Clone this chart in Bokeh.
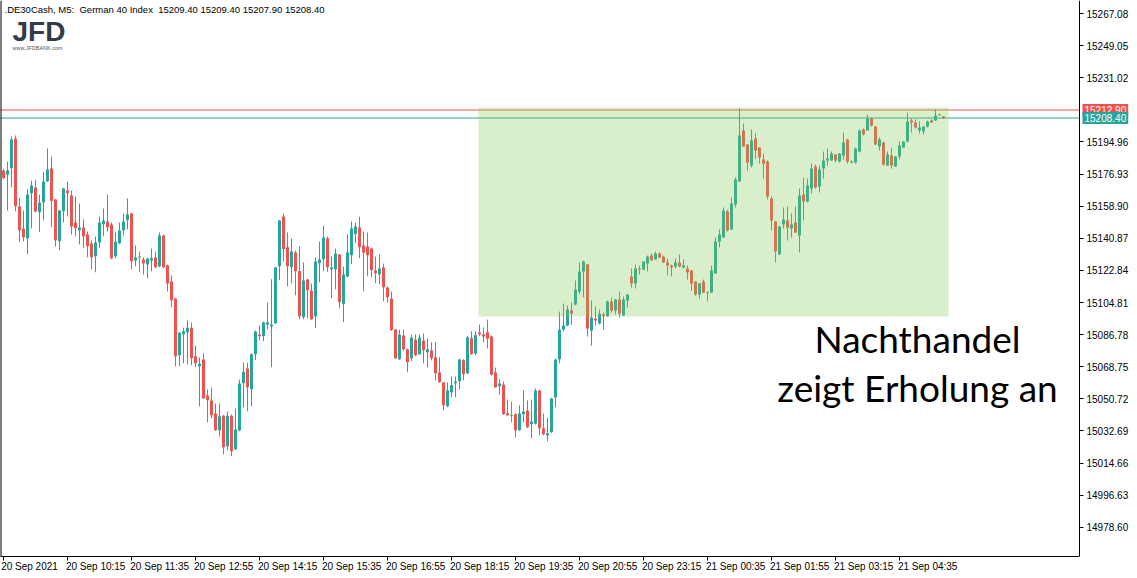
from bokeh.plotting import figure
from bokeh.models import Range1d, FixedTicker, Label, Span, LinearAxis
from bokeh.embed import file_html
from bokeh.resources import INLINE

# ---------------- data (DE40 cash, M5 bars, 20/21 Sep 2021) ----------------
opens = [
    15178.9, 15176.5, 15180.2, 15196.9, 15158.7, 15146.3, 15140.9, 15166.2, 15169.4, 15155.5,
    15161.1, 15172.9, 15180.0, 15162.6, 15139.2, 15156.1, 15167.7, 15164.9, 15149.7, 15145.4,
    15146.9, 15143.0, 15137.9, 15130.8, 15138.7, 15148.8, 15150.3, 15148.6, 15130.8, 15138.1,
    15145.4, 15151.0, 15154.8, 15128.4, 15130.4, 15128.9, 15126.1, 15128.4, 15130.1, 15125.2,
    15142.4, 15125.8, 15116.6, 15107.0, 15075.2, 15087.0, 15088.1, 15090.7, 15074.6, 15069.0,
    15072.8, 15052.6, 15049.8, 15042.5, 15033.1, 15041.3, 15024.1, 15041.3, 15022.4, 15033.1,
    15059.5, 15067.7, 15056.1, 15075.8, 15086.8, 15085.9, 15092.4, 15091.5, 15093.2, 15125.2,
    15153.1, 15135.9, 15124.6, 15132.9, 15122.4, 15096.6, 15117.7, 15111.5, 15097.1, 15126.9,
    15129.1, 15140.7, 15123.5, 15123.5, 15131.8, 15103.9, 15119.4, 15131.4, 15143.2, 15146.9,
    15136.8, 15136.3, 15135.1, 15122.8, 15120.7, 15124.5, 15113.2, 15107.0, 15089.6, 15073.0,
    15086.3, 15078.6, 15073.5, 15084.0, 15075.8, 15083.5, 15076.9, 15078.0, 15074.1, 15065.5,
    15059.9, 15046.6, 15054.4, 15059.5, 15060.6, 15072.4, 15065.1, 15084.8, 15076.3, 15088.0,
    15087.0, 15088.1, 15085.7, 15065.5, 15057.8, 15058.7, 15042.6, 15041.3, 15042.1, 15033.1,
    15042.1, 15044.1, 15036.5, 15036.8, 15055.4, 15034.2, 15030.3, 15032.0, 15051.6, 15073.0,
    15089.6, 15091.9, 15100.3, 15103.7, 15111.0, 15122.2, 15126.2, 15089.1, 15095.8, 15093.0,
    15098.2, 15097.1, 15105.4, 15100.3, 15106.5, 15097.5, 15105.9, 15119.4, 15115.5, 15123.9,
    15123.3, 15126.7, 15131.2, 15129.0, 15132.3, 15130.6, 15127.3, 15125.6, 15125.0, 15127.3,
    15124.5, 15123.9, 15122.8, 15116.6, 15109.3, 15116.6, 15110.4, 15110.4, 15121.1, 15139.1,
    15141.3, 15155.9, 15145.8, 15159.8, 15172.8, 15201.4, 15193.5, 15181.7, 15196.9, 15191.8,
    15185.1, 15184.0, 15163.2, 15150.3, 15131.8, 15148.6, 15150.9, 15146.4, 15149.7, 15142.4,
    15165.4, 15161.5, 15168.8, 15181.2, 15169.9, 15180.0, 15184.6, 15184.6, 15187.9, 15184.0,
    15187.4, 15196.4, 15183.8, 15183.4, 15189.6, 15202.0, 15201.4, 15208.2, 15203.6, 15192.4,
    15194.7, 15181.7, 15187.4, 15181.2, 15186.8, 15191.8, 15195.2, 15207.0, 15205.9, 15201.4,
    15200.8, 15203.6, 15207.0, 15207.0, 15210.2, 15209.4,
]
highs = [
    15179.9, 15184.0, 15198.0, 15198.6, 15163.6, 15156.5, 15168.6, 15173.3, 15173.7, 15165.4,
    15178.0, 15191.3, 15186.8, 15163.0, 15156.8, 15169.2, 15172.7, 15167.7, 15164.3, 15160.4,
    15151.4, 15144.7, 15139.6, 15141.9, 15153.1, 15157.6, 15165.4, 15149.7, 15144.1, 15149.7,
    15154.8, 15163.2, 15155.1, 15136.8, 15133.4, 15130.2, 15129.9, 15135.1, 15133.4, 15144.1,
    15142.8, 15126.1, 15120.1, 15107.4, 15088.3, 15090.7, 15094.7, 15093.6, 15080.6, 15073.9,
    15076.3, 15055.9, 15057.1, 15048.1, 15048.1, 15041.7, 15043.6, 15041.9, 15045.3, 15061.5,
    15071.1, 15071.1, 15076.3, 15089.1, 15091.9, 15094.1, 15104.8, 15117.9, 15124.8, 15151.2,
    15154.8, 15144.1, 15140.7, 15134.0, 15136.3, 15127.3, 15118.1, 15115.5, 15130.1, 15139.1,
    15148.0, 15141.9, 15130.6, 15135.1, 15132.1, 15125.0, 15143.0, 15150.3, 15149.7, 15153.1,
    15144.7, 15144.1, 15135.5, 15130.6, 15131.8, 15126.7, 15113.8, 15111.0, 15090.0, 15089.6,
    15089.6, 15079.0, 15086.8, 15086.8, 15086.8, 15087.4, 15084.6, 15082.5, 15082.5, 15074.1,
    15060.2, 15059.9, 15063.4, 15063.2, 15073.2, 15073.0, 15085.9, 15088.7, 15088.7, 15092.4,
    15090.9, 15095.2, 15086.3, 15068.3, 15061.6, 15060.4, 15050.3, 15049.2, 15042.5, 15047.0,
    15055.4, 15049.8, 15050.3, 15056.5, 15055.8, 15042.5, 15040.2, 15051.3, 15073.2, 15099.7,
    15104.2, 15103.2, 15104.8, 15117.2, 15127.3, 15128.4, 15126.5, 15105.9, 15102.6, 15100.9,
    15099.2, 15105.9, 15107.6, 15106.8, 15111.0, 15108.2, 15109.5, 15123.9, 15126.1, 15125.6,
    15128.0, 15131.2, 15132.3, 15133.4, 15132.9, 15131.2, 15129.5, 15126.1, 15129.5, 15131.8,
    15129.0, 15125.6, 15123.0, 15116.8, 15115.7, 15117.7, 15111.0, 15125.6, 15141.3, 15145.8,
    15158.2, 15157.0, 15163.8, 15175.0, 15213.8, 15205.3, 15193.7, 15202.0, 15199.7, 15192.0,
    15188.5, 15184.6, 15164.4, 15150.5, 15147.7, 15158.2, 15158.7, 15154.8, 15158.7, 15168.8,
    15175.0, 15174.4, 15182.8, 15182.3, 15181.7, 15189.6, 15191.3, 15189.6, 15188.1, 15188.7,
    15200.2, 15196.6, 15184.6, 15191.8, 15202.0, 15202.5, 15210.4, 15208.7, 15203.8, 15197.5,
    15195.2, 15189.6, 15191.8, 15187.0, 15195.2, 15195.4, 15211.5, 15208.2, 15207.6, 15206.5,
    15203.8, 15207.0, 15207.6, 15213.2, 15210.9, 15209.4,
]
lows = [
    15174.2, 15156.5, 15169.6, 15156.1, 15138.7, 15139.2, 15131.9, 15146.5, 15155.5, 15144.3,
    15151.0, 15172.4, 15147.1, 15136.2, 15134.2, 15149.9, 15153.1, 15143.0, 15142.0, 15137.4,
    15135.3, 15130.2, 15123.5, 15121.8, 15135.5, 15142.0, 15144.8, 15129.1, 15129.7, 15137.7,
    15142.4, 15146.0, 15123.5, 15125.2, 15121.8, 15120.5, 15118.5, 15122.4, 15124.1, 15124.6,
    15124.1, 15111.0, 15102.2, 15069.0, 15069.0, 15070.7, 15070.2, 15069.6, 15068.5, 15046.6,
    15050.5, 15037.6, 15039.8, 15032.7, 15029.7, 15019.6, 15021.9, 15018.5, 15022.0, 15032.5,
    15046.0, 15043.8, 15046.6, 15072.4, 15083.6, 15083.1, 15089.8, 15068.5, 15092.8, 15117.3,
    15128.0, 15114.0, 15115.7, 15108.9, 15095.4, 15095.4, 15096.0, 15095.1, 15090.4, 15116.2,
    15122.4, 15122.0, 15107.2, 15112.3, 15101.6, 15093.8, 15119.0, 15126.3, 15138.1, 15129.7,
    15111.2, 15119.6, 15119.0, 15115.7, 15115.1, 15105.5, 15105.0, 15088.9, 15073.2, 15072.6,
    15077.5, 15065.7, 15071.9, 15074.7, 15075.4, 15070.7, 15068.5, 15072.4, 15061.2, 15059.7,
    15044.3, 15046.0, 15051.6, 15051.6, 15056.1, 15061.2, 15064.7, 15075.4, 15075.2, 15085.9,
    15082.5, 15079.0, 15063.8, 15056.9, 15053.1, 15041.7, 15041.0, 15037.6, 15029.2, 15032.7,
    15037.4, 15034.4, 15028.6, 15036.3, 15030.3, 15030.3, 15026.9, 15031.6, 15046.0, 15070.7,
    15088.7, 15091.5, 15092.4, 15103.3, 15109.7, 15107.8, 15085.7, 15080.6, 15091.9, 15092.5,
    15089.6, 15096.8, 15099.2, 15098.1, 15096.4, 15097.2, 15102.0, 15113.2, 15112.7, 15120.5,
    15123.0, 15122.2, 15128.2, 15128.8, 15129.9, 15127.0, 15120.0, 15119.4, 15123.9, 15124.5,
    15123.9, 15117.7, 15111.5, 15108.7, 15107.0, 15110.2, 15105.4, 15110.2, 15120.9, 15135.7,
    15141.1, 15144.7, 15145.6, 15158.2, 15172.6, 15192.2, 15178.9, 15180.6, 15185.3, 15182.8,
    15174.4, 15162.7, 15145.3, 15127.3, 15131.6, 15146.4, 15139.6, 15141.3, 15143.9, 15132.9,
    15150.9, 15161.0, 15166.0, 15168.8, 15166.6, 15174.4, 15181.7, 15184.4, 15183.4, 15183.4,
    15185.1, 15182.8, 15182.8, 15182.8, 15189.1, 15198.6, 15201.2, 15203.6, 15193.3, 15190.2,
    15181.7, 15181.5, 15180.0, 15181.0, 15185.1, 15191.6, 15194.7, 15200.2, 15202.5, 15199.7,
    15199.2, 15203.1, 15205.7, 15206.8, 15209.8, 15207.9,
]
closes = [
    15174.8, 15178.9, 15196.3, 15158.9, 15145.4, 15141.5, 15165.4, 15170.5, 15155.9, 15160.9,
    15172.7, 15179.5, 15161.9, 15139.8, 15156.5, 15168.8, 15166.2, 15147.5, 15146.5, 15146.9,
    15142.0, 15136.4, 15130.2, 15138.5, 15149.7, 15150.8, 15147.1, 15129.7, 15139.0, 15145.2,
    15150.3, 15154.2, 15128.0, 15130.1, 15130.4, 15126.7, 15129.5, 15129.7, 15124.6, 15142.4,
    15124.6, 15115.5, 15106.1, 15074.6, 15087.9, 15088.7, 15090.7, 15073.5, 15070.7, 15070.5,
    15051.1, 15049.9, 15041.5, 15033.1, 15041.0, 15023.5, 15041.3, 15021.3, 15033.5, 15059.3,
    15066.0, 15057.2, 15075.8, 15088.5, 15085.9, 15093.6, 15093.6, 15092.4, 15124.5, 15150.9,
    15134.8, 15125.2, 15133.4, 15122.4, 15097.1, 15117.2, 15111.7, 15095.4, 15127.8, 15128.9,
    15141.3, 15124.6, 15124.5, 15132.3, 15105.0, 15120.5, 15132.9, 15146.4, 15147.5, 15135.9,
    15132.9, 15131.4, 15123.0, 15121.3, 15123.9, 15113.4, 15107.8, 15089.3, 15073.5, 15086.8,
    15078.6, 15071.3, 15085.1, 15075.2, 15085.1, 15078.0, 15078.6, 15073.5, 15065.1, 15060.1,
    15047.1, 15055.4, 15058.4, 15060.4, 15072.8, 15064.6, 15085.3, 15075.8, 15086.5, 15087.0,
    15085.7, 15084.6, 15064.4, 15057.2, 15059.3, 15042.1, 15041.5, 15041.3, 15033.1, 15042.5,
    15043.6, 15034.8, 15038.0, 15055.4, 15034.2, 15030.9, 15031.4, 15050.9, 15072.8, 15089.6,
    15091.9, 15100.9, 15098.6, 15112.1, 15122.2, 15127.8, 15090.2, 15096.4, 15094.7, 15098.6,
    15097.1, 15105.4, 15100.3, 15106.5, 15098.6, 15106.5, 15109.3, 15115.5, 15123.9, 15123.3,
    15127.8, 15130.6, 15128.4, 15132.3, 15130.1, 15127.3, 15125.6, 15124.5, 15127.3, 15125.0,
    15125.6, 15121.7, 15115.5, 15109.3, 15115.5, 15110.4, 15110.4, 15122.8, 15139.1, 15143.0,
    15156.5, 15145.3, 15160.4, 15173.9, 15198.6, 15192.4, 15183.4, 15195.8, 15190.2, 15186.2,
    15182.8, 15164.4, 15150.9, 15133.4, 15147.5, 15151.4, 15147.0, 15148.6, 15144.1, 15164.9,
    15161.5, 15170.5, 15180.0, 15169.4, 15179.5, 15184.6, 15185.7, 15188.5, 15184.6, 15188.5,
    15194.7, 15184.0, 15183.8, 15191.3, 15201.4, 15199.2, 15208.2, 15204.2, 15193.5, 15196.4,
    15182.3, 15187.9, 15181.7, 15186.8, 15193.0, 15195.2, 15206.5, 15205.9, 15203.1, 15203.1,
    15203.6, 15206.5, 15205.9, 15209.8, 15210.2, 15208.4,
]

time_tick_bars = [0, 16, 32, 48, 64, 80, 96, 112, 128, 144, 160, 176, 192, 208, 224]
time_tick_labels = ["20 Sep 2021", "20 Sep 10:15", "20 Sep 11:35", "20 Sep 12:55",
                    "20 Sep 14:15", "20 Sep 15:35", "20 Sep 16:55", "20 Sep 18:15",
                    "20 Sep 19:35", "20 Sep 20:55", "20 Sep 23:15", "21 Sep 00:35",
                    "21 Sep 01:55", "21 Sep 03:15", "21 Sep 04:35"]
price_ticks = [14978.60, 14996.63, 15014.66, 15032.69, 15050.72, 15068.75, 15086.78,
               15104.81, 15122.84, 15140.87, 15158.90, 15176.93, 15194.96, 15231.02,
               15249.05, 15267.08]
price_tick_labels = ["14978.60", "14996.63", "15014.66", "15032.69", "15050.72", "15068.75",
                     "15086.78", "15104.81", "15122.84", "15140.87", "15158.90", "15176.93",
                     "15194.96", "15231.02", "15249.05", "15267.08"]
ask_price = 15212.90
bid_price = 15208.40
zone_bars = [118.75, 236.25]
zone_prices = [15096.95, 15214.3]
header_text = ".DE30Cash, M5: \u00a0German 40 Index \u00a015209.40 15209.40 15207.90 15208.40"
caption_lines = ["Nachthandel", "zeigt Erholung an"]

# ---------------- styling ----------------
BULL = "#26a69a"
BEAR = "#ef5350"
DOJI = "#4caf50"
AX_FONT = "Liberation Sans"
LAST_X = 269.0           # x (in bars) where the price scale sits

n = len(closes)
idx = list(range(n))
colors, body_top, body_bot = [], [], []
for o, c in zip(opens, closes):
    colors.append(BULL if c > o else (BEAR if c < o else DOJI))
    t, b = max(o, c), min(o, c)
    if t - b < 0.6:
        m = (t + b) / 2
        t, b = m + 0.3, m - 0.3
    body_top.append(t)
    body_bot.append(b)

p = figure(width=1136, height=577,
           x_range=Range1d(-0.75, 283.25), y_range=Range1d(14962.2, 15274.4),
           y_axis_location="right", output_backend="svg", toolbar_location=None,
           min_border_left=0, min_border_top=0, min_border_right=0, min_border_bottom=21)
p.grid.visible = False
p.outline_line_color = None
p.background_fill_color = "white"
p.border_fill_color = "white"

# price lines (under the zone rectangle)
p.segment(x0=[-5, -5], x1=[LAST_X, LAST_X], y0=[ask_price, bid_price],
          y1=[ask_price, bid_price], line_color=[BEAR, BULL], line_width=1)

# candles
p.segment(x0=idx, x1=idx, y0=lows, y1=highs, line_color=colors, line_width=1)
p.vbar(x=idx, width=0.75, top=body_top, bottom=body_bot, fill_color=colors, line_color=None)

# highlighted zone
p.quad(left=[zone_bars[0]], right=[zone_bars[1]], bottom=[zone_prices[0]], top=[zone_prices[1]],
       fill_color=(128, 202, 85), fill_alpha=0.3, line_color=None)

# left border
p.add_layout(Span(location=-0.75, dimension="height", line_color="black", line_width=2))

# price scale, drawn at the right edge of the chart area
yax = p.yaxis[0]
yax.fixed_location = LAST_X
yax.ticker = FixedTicker(ticks=price_ticks)
yax.major_label_overrides = {t: l for t, l in zip(price_ticks, price_tick_labels)}
yax.major_label_text_font = AX_FONT
yax.major_label_text_font_size = "10px"
yax.major_label_text_color = "black"
yax.major_tick_out = 4
yax.major_tick_in = 0
yax.minor_tick_line_color = None
yax.major_label_standoff = 3
yax.axis_line_color = "black"
yax.axis_line_width = 1
yax.major_tick_line_color = "black"

# time axis: tick marks
xax = p.xaxis[0]
xax.bounds = (-0.75, LAST_X)
xax.ticker = FixedTicker(ticks=time_tick_bars)
xax.major_label_overrides = {t: "" for t in time_tick_bars}
xax.major_label_text_font_size = "0px"
xax.major_tick_out = 4
xax.major_tick_in = 0
xax.minor_tick_line_color = None
xax.major_label_standoff = 0
xax.axis_line_color = "black"
xax.major_tick_line_color = "black"

# time axis: labels that start right of their tick mark
label_pos = [b + (6.5 if i == 0 else 7.05) for i, b in enumerate(time_tick_bars)]
xlab = LinearAxis(ticker=FixedTicker(ticks=label_pos),
                  major_label_overrides={pos: l for pos, l in zip(label_pos, time_tick_labels)},
                  major_label_text_font=AX_FONT, major_label_text_font_size="10px",
                  major_label_text_color="black", major_label_standoff=0,
                  major_tick_out=0, major_tick_in=0,
                  major_tick_line_color=None, minor_tick_line_color=None,
                  axis_line_color=None)
p.add_layout(xlab, "below")

# price boxes on the scale
p.add_layout(Label(x=269.75, y=ask_price, text="15212.90", text_color="white",
                   text_font=AX_FONT, text_font_size="10px", text_align="left",
                   text_baseline="middle", background_fill_color=BEAR, padding=2))
p.add_layout(Label(x=269.75, y=bid_price, text="15208.40", text_color="white",
                   text_font=AX_FONT, text_font_size="10px", text_align="left",
                   text_baseline="middle", background_fill_color=BULL, padding=2))

# header + logo
p.add_layout(Label(x=0.25, y=15272.2, text=header_text, text_font=AX_FONT,
                   text_font_size="9.5px", text_color="black", text_baseline="top"))
p.add_layout(Label(x=2.25, y=15265.7, text="JFD", text_font="Liberation Sans",
                   text_font_style="bold", text_font_size="28px", text_color="#333c46",
                   text_baseline="top"))
p.add_layout(Label(x=2.25, y=15249.6, text="www.JFDBANK.com", text_font="Liberation Sans",
                   text_font_size="5.5px", text_color="#555555", text_baseline="top"))

# caption
p.add_layout(Label(x=228.5, y=15084.6, text=caption_lines[0], text_font="Lato",
                   text_font_size="37px", text_color="black", text_align="center",
                   text_baseline="alphabetic"))
p.add_layout(Label(x=228.5, y=15057.2, text=caption_lines[1], text_font="Lato",
                   text_font_size="37px", text_color="black", text_align="center",
                   text_baseline="alphabetic"))

open("out.html", "w").write(file_html(p, INLINE))
